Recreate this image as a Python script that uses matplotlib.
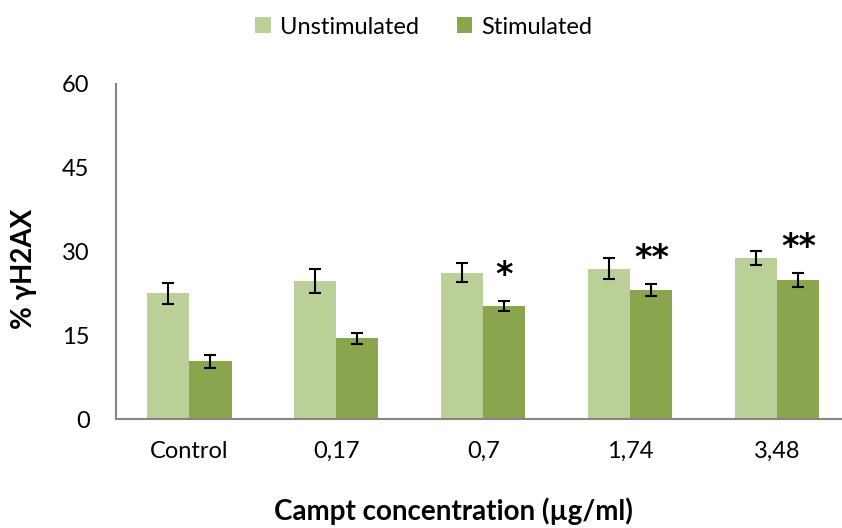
import numpy as np
import matplotlib
matplotlib.use("Agg")
import matplotlib.pyplot as plt

plt.rcParams['font.family'] = ['Lato', 'DejaVu Sans']

# data
categories = ["Control", "0,17", "0,7", "1,74", "3,48"]
unstim = [22.5, 24.7, 26.2, 26.9, 28.8]
unstim_err = [1.9, 2.2, 1.7, 1.85, 1.3]
stim = [10.3, 14.45, 20.2, 23.1, 24.9]
stim_err = [1.1, 1.0, 0.85, 1.05, 1.3]
stars = ["", "", "*", "**", "**"]

light = "#BBCF98"
dark = "#8AA54E"

fig = plt.figure(figsize=(8.42, 5.28), dpi=100)
ax = fig.add_axes([116/842, 1-419/528, 1-116/842, (419-84)/528])

x = np.arange(len(categories))
w = 0.286
ax.bar(x - w/2, unstim, w, color=light, label="Unstimulated",
       yerr=unstim_err, error_kw=dict(ecolor="black", elinewidth=1.5, capsize=4.5, capthick=1.5))
ax.bar(x + w/2, stim, w, color=dark, label="Stimulated",
       yerr=stim_err, error_kw=dict(ecolor="black", elinewidth=1.5, capsize=4.5, capthick=1.5))

# significance stars over the stimulated bars
for i in range(len(categories)):
    if stars[i]:
        ax.text(x[i] + w/2, stim[i] + stim_err[i] + 4.6, stars[i], ha="center", va="center",
                fontsize=24, fontweight="bold", family="DejaVu Sans")

ax.set_xlim(-0.5, 4.44)
ax.set_ylim(0, 60)
ax.set_yticks([0, 15, 30, 45, 60])
ax.set_xticks(x)
ax.set_xticklabels(categories)
ax.tick_params(length=0, labelsize=17)
ax.tick_params(axis="y", pad=19)
ax.tick_params(axis="x", pad=16)

for s in ["top", "right"]:
    ax.spines[s].set_visible(False)
for s in ["left", "bottom"]:
    ax.spines[s].set_color("#868686")
    ax.spines[s].set_linewidth(1.5)

fig.text(24/842, 1-269/528, "% \u03b3H2AX", rotation=90, ha="center", va="center",
         fontsize=20, fontweight="bold")
fig.text(453/842, 1-511/528, "Campt concentration (\u00b5g/ml)", ha="center", va="center",
         fontsize=20, fontweight="bold")

fig.legend(loc="center", bbox_to_anchor=(424/842, 1-27/528), ncol=2, frameon=False,
           fontsize=17, handlelength=0.65, handleheight=0.65, columnspacing=1.6, handletextpad=0.4)

fig.savefig("out.png", dpi=100)
